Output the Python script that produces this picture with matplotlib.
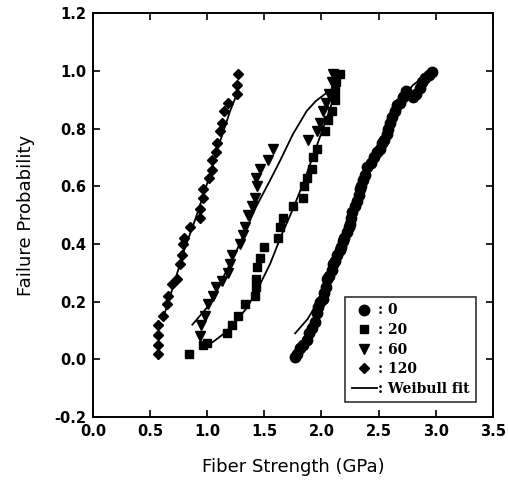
import matplotlib.pyplot as plt
import numpy as np

# failure probability vs fiber strength
# 0 series (circles)
s0_x = [1.77, 1.79, 1.81, 1.84, 1.87, 1.89, 1.92, 1.94, 1.96, 1.97, 1.99, 2.01, 2.02, 2.04,
        2.05, 2.07, 2.09, 2.10, 2.12, 2.14, 2.16, 2.17, 2.19, 2.20, 2.22, 2.24, 2.25, 2.26,
        2.27, 2.29, 2.31, 2.33, 2.34, 2.35, 2.36, 2.38, 2.40, 2.43, 2.46, 2.49, 2.51, 2.53,
        2.55, 2.57, 2.58, 2.60, 2.62, 2.64, 2.66, 2.69, 2.71, 2.74, 2.80, 2.83, 2.86, 2.88,
        2.91, 2.94, 2.97]
s0_y = [0.007, 0.02, 0.038, 0.05, 0.066, 0.09, 0.11, 0.13, 0.16, 0.18, 0.20, 0.21, 0.23, 0.25,
        0.28, 0.29, 0.31, 0.33, 0.34, 0.36, 0.38, 0.39, 0.41, 0.42, 0.44, 0.46, 0.47, 0.49,
        0.51, 0.53, 0.55, 0.57, 0.59, 0.60, 0.62, 0.64, 0.665, 0.68, 0.70, 0.72, 0.73, 0.75,
        0.76, 0.78, 0.80, 0.82, 0.84, 0.86, 0.88, 0.89, 0.91, 0.93, 0.91, 0.92, 0.94, 0.96,
        0.975, 0.985, 0.995]

# 20 series (squares)
s20_x = [0.84, 0.96, 1.00, 1.17, 1.22, 1.27, 1.33, 1.42, 1.43, 1.43, 1.44, 1.46, 1.50, 1.62,
         1.64, 1.66, 1.75, 1.84, 1.85, 1.87, 1.92, 1.93, 1.96, 2.03, 2.06, 2.09, 2.12, 2.12,
         2.13, 2.16]
s20_y = [0.02, 0.05, 0.055, 0.09, 0.12, 0.15, 0.19, 0.22, 0.25, 0.28, 0.32, 0.35, 0.39, 0.42,
         0.46, 0.49, 0.53, 0.56, 0.60, 0.63, 0.66, 0.70, 0.73, 0.79, 0.83, 0.86, 0.90, 0.93,
         0.96, 0.99]

# 60 series (triangles)
s60_x = [0.94, 0.95, 0.98, 1.01, 1.05, 1.08, 1.13, 1.18, 1.20, 1.22, 1.29, 1.31, 1.33, 1.36,
         1.39, 1.42, 1.44, 1.43, 1.46, 1.53, 1.575, 1.88, 1.96, 1.99, 2.01, 2.04, 2.07, 2.09,
         2.10]
s60_y = [0.08, 0.12, 0.15, 0.19, 0.22, 0.25, 0.27, 0.30, 0.33, 0.36, 0.40, 0.43, 0.46, 0.50,
         0.53, 0.56, 0.60, 0.63, 0.66, 0.69, 0.73, 0.76, 0.79, 0.82, 0.86, 0.89, 0.92, 0.96,
         0.99]

# 120 series (diamonds)
s120_x = [0.57, 0.57, 0.57, 0.57, 0.61, 0.65, 0.66, 0.69, 0.74, 0.76, 0.78, 0.79, 0.80, 0.85,
          0.94, 0.94, 0.96, 0.96, 1.02, 1.04, 1.04, 1.08, 1.09, 1.11, 1.13, 1.15, 1.18, 1.26,
          1.26, 1.27]
s120_y = [0.02, 0.05, 0.083, 0.118, 0.15, 0.19, 0.22, 0.26, 0.28, 0.33, 0.36, 0.40, 0.42, 0.46,
          0.49, 0.52, 0.56, 0.59, 0.63, 0.655, 0.69, 0.72, 0.75, 0.79, 0.82, 0.86, 0.89, 0.92,
          0.95, 0.99]

# Weibull fit curves
fit0_x = [1.77, 1.88, 2.0, 2.1, 2.2, 2.3, 2.4, 2.5, 2.6, 2.7, 2.8, 2.9, 2.96]
fit0_y = [0.09, 0.14, 0.22, 0.31, 0.41, 0.52, 0.63, 0.73, 0.82, 0.90, 0.95, 0.98, 0.99]
fit20_x = [0.94, 1.05, 1.15, 1.25, 1.35, 1.45, 1.55, 1.65, 1.75, 1.85, 1.95, 2.05, 2.12]
fit20_y = [0.04, 0.06, 0.09, 0.13, 0.18, 0.25, 0.33, 0.43, 0.52, 0.62, 0.73, 0.84, 0.92]
fit60_x = [0.87, 1.0, 1.11, 1.25, 1.43, 1.55, 1.64, 1.75, 1.87, 1.95, 2.05]
fit60_y = [0.12, 0.18, 0.26, 0.37, 0.53, 0.62, 0.69, 0.78, 0.86, 0.895, 0.925]
fit120_x = [0.62, 0.7, 0.8, 0.9, 1.0, 1.1, 1.2, 1.27]
fit120_y = [0.15, 0.25, 0.38, 0.49, 0.61, 0.74, 0.86, 0.93]

fig = plt.figure(figsize=(5.08, 4.86), dpi=100)
ax = fig.add_axes([0.183, 0.142, 0.787, 0.831])

# fits first so markers sit on top
for fx, fy in [(fit0_x, fit0_y), (fit20_x, fit20_y), (fit60_x, fit60_y), (fit120_x, fit120_y)]:
    ax.plot(fx, fy, color='black', lw=1.3)

ax.plot(s0_x, s0_y, 'o', color='black', ms=7.5, label=': 0')
ax.plot(s20_x, s20_y, 's', color='black', ms=6, label=': 20')
ax.plot(s60_x, s60_y, 'v', color='black', ms=7, label=': 60')
ax.plot(s120_x, s120_y, 'D', color='black', ms=5, label=': 120')
ax.plot([], [], color='black', lw=1.3, label=': Weibull fit')

ax.set_xlim(0, 3.5)
ax.set_ylim(-0.2, 1.2)
ax.set_xticks(np.arange(0, 3.51, 0.5))
ax.set_yticks(np.arange(-0.2, 1.21, 0.2))
ax.set_xticklabels(['%.1f' % v for v in np.arange(0, 3.51, 0.5)])
ax.set_yticklabels(['%.1f' % v if abs(v) > 1e-9 else '0.0' for v in np.arange(-0.2, 1.21, 0.2)])
ax.tick_params(direction='in', length=5, width=1.2, top=True, right=True,
               labelsize=10.5, pad=5)
for lab in ax.get_xticklabels() + ax.get_yticklabels():
    lab.set_fontweight('bold')
for sp in ax.spines.values():
    sp.set_linewidth(1.4)

ax.set_xlabel('Fiber Strength (GPa)', fontsize=13, labelpad=14)
ax.set_ylabel('Failure Probability', fontsize=13, labelpad=14)

leg = ax.legend(loc='lower right', bbox_to_anchor=(0.975, 0.02), frameon=True, fancybox=False,
                edgecolor='black', handlelength=1.8, handletextpad=0.1, borderpad=0.45,
                labelspacing=0.4, prop={'family': 'DejaVu Serif', 'weight': 'bold', 'size': 10})
leg.get_frame().set_linewidth(1.2)

fig.savefig('out.png', dpi=100)
